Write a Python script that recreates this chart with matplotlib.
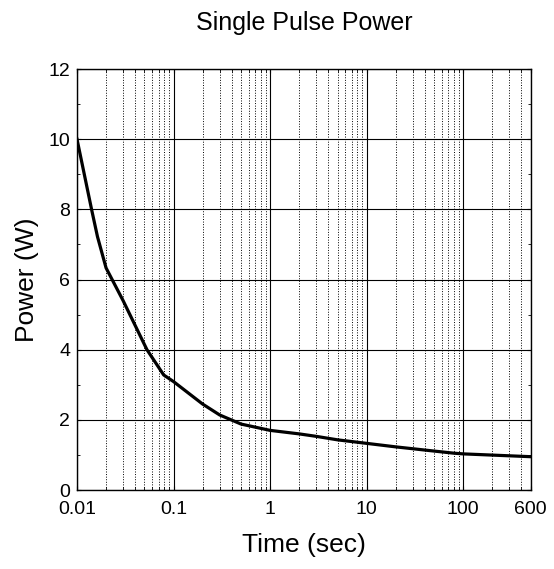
import matplotlib
matplotlib.use('Agg')
import matplotlib.pyplot as plt
from matplotlib.ticker import FixedLocator, NullFormatter
import numpy as np

plt.rcParams['font.family'] = ['Liberation Sans', 'DejaVu Sans']

# data
time_sec = [0.01, 0.0142, 0.0163, 0.02, 0.03, 0.053, 0.079, 0.1, 0.2, 0.3, 0.5,
            1, 2, 3, 5, 10, 20, 50, 80, 100, 500]
power_w = [10.0, 7.98, 7.22, 6.33, 5.4, 4.0, 3.28, 3.09, 2.45, 2.14, 1.88,
           1.7, 1.6, 1.53, 1.43, 1.33, 1.23, 1.11, 1.05, 1.03, 0.95]

x_ticks = [0.01, 0.1, 1, 10, 100, 500]
x_ticklabels = ['0.01', '0.1', '1', '10', '100', '600']
y_ticks = [0, 2, 4, 6, 8, 10, 12]

fig = plt.figure(figsize=(5.54, 5.69), dpi=100)
ax = fig.add_axes([0.139, 0.1388, 0.819, 0.7399])

ax.plot(time_sec, power_w, color='black', linewidth=2.3, zorder=3)

ax.set_xscale('log')
ax.set_xlim(0.01, 500)
ax.set_ylim(0, 12)

ax.xaxis.set_major_locator(FixedLocator(x_ticks))
ax.set_xticklabels(x_ticklabels)
minor_x = [m * d for d in [0.01, 0.1, 1, 10, 100] for m in range(2, 10) if m * d < 500]
ax.xaxis.set_minor_locator(FixedLocator(minor_x))
ax.xaxis.set_minor_formatter(NullFormatter())
ax.yaxis.set_major_locator(FixedLocator(y_ticks))
ax.yaxis.set_minor_locator(FixedLocator([1, 3, 5, 7, 9, 11]))

ax.grid(which='major', color='black', linestyle='-', linewidth=0.8)
ax.grid(which='minor', axis='x', color='black', linestyle=':', linewidth=0.7)

ax.tick_params(which='both', direction='in', top=True, right=True)
ax.tick_params(which='major', length=3, labelsize=14)
ax.tick_params(which='minor', length=2)
ax.tick_params(axis='x', pad=8)
ax.tick_params(axis='y', pad=5)

for s in ax.spines.values():
    s.set_linewidth(1.0)

ax.set_xlabel('Time (sec)', fontsize=19, labelpad=11)
ax.set_ylabel('Power (W)', fontsize=19, labelpad=7)
ax.set_title('Single Pulse Power', fontsize=18, pad=28)

fig.savefig('out.png', dpi=100)
